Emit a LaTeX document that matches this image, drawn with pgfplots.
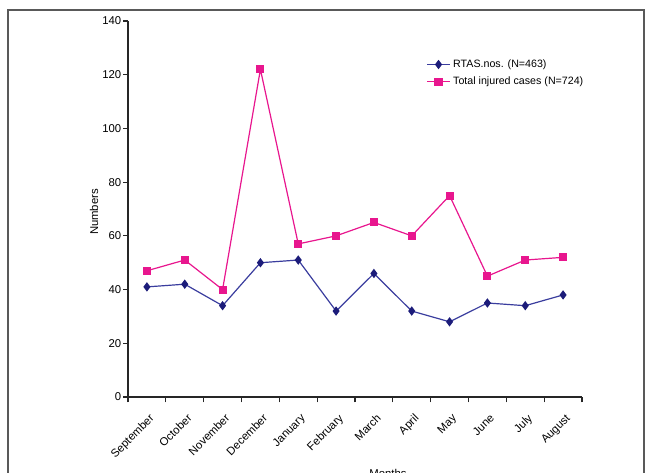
\documentclass[border=0pt]{standalone}
\usepackage{pgfplots}
\pgfplotsset{compat=1.18}
\usepackage{fontspec}
\setmainfont{Liberation Sans}
\definecolor{rtas}{HTML}{3A3D9E}
\definecolor{rtasmark}{HTML}{1C1C7A}
\definecolor{injured}{HTML}{E8168E}
\begin{document}
\begin{tikzpicture}[x=0.75pt,y=0.75pt]
\useasboundingbox (0,0) rectangle (646,472);
\clip (0,0) rectangle (646,472);
\draw[gray!70!black, line width=0.8pt] (8,-20) -- (8,462) -- (644,462) -- (644,-20);
\begin{axis}[
    at={(96pt,56.25pt)}, anchor=south west,
    width=340.5pt, height=282pt, scale only axis,
    xmin=0, xmax=12, ymin=0, ymax=140,
    axis x line*=bottom, axis y line*=left,
    axis line style={black!85, line width=0.8pt},
    xtick={0.5,1.5,...,11.5},
    xticklabels={September,October,November,December,January,February,March,April,May,June,July,August},
    minor xtick={0,1,...,12},
    major x tick style={draw=none},
    minor tick length=4pt,
    xtick align=outside,
    ytick={0,20,...,140},
    ytick align=outside,
    major tick length=3.5pt,
    tick style={black!85, line width=0.8pt},
    xticklabel style={rotate=45, anchor=north east, font=\fontsize{8.5}{10}\selectfont,
        inner sep=1pt, xshift=-4pt, yshift=-6pt},
    yticklabel style={font=\fontsize{8.5}{10}\selectfont, xshift=2pt},
    /pgf/number format/assume math mode=true,
    clip=false,
    legend style={at={(0.657,0.905)}, anchor=north west, draw=none, fill=none,
        font=\fontsize{8}{10}\selectfont, row sep=1.5pt, inner sep=0pt,
        /tikz/every odd column/.style={column sep=0pt}},
    legend cell align=left,
]
\addplot[rtas, line width=0.9pt, mark=diamond*, mark size=2.8pt,
    mark options={draw=rtasmark, fill=rtasmark}]
    coordinates {(0.5,41) (1.5,42) (2.5,34) (3.5,50) (4.5,51) (5.5,32)
                 (6.5,46) (7.5,32) (8.5,28) (9.5,35) (10.5,34) (11.5,38)};
\addlegendentry{RTAS.nos. (N=463)}
\addplot[injured, line width=0.9pt, mark=square*, mark size=2.6pt,
    mark options={draw=injured, fill=injured}]
    coordinates {(0.5,47) (1.5,51) (2.5,40) (3.5,122) (4.5,57) (5.5,60)
                 (6.5,65) (7.5,60) (8.5,75) (9.5,45) (10.5,51) (11.5,52)};
\addlegendentry{Total injured cases (N=724)}
\end{axis}
\node[rotate=90, font=\fontsize{8.5}{10}\selectfont] at (94,260) {Numbers};
\node[anchor=north, font=\fontsize{8.5}{10}\selectfont] at (388,7) {Months};
\end{tikzpicture}
\end{document}
